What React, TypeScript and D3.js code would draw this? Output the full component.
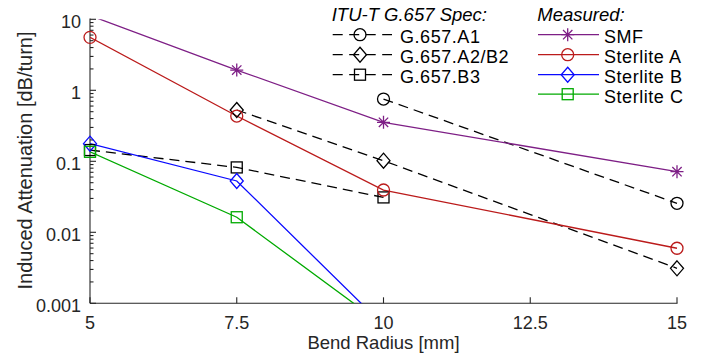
import React from "react";
import * as d3 from "d3";

const radii = [5, 7.5, 10, 12.5, 15];
const xTicks = [5, 7.5, 10, 12.5, 15];
const xTickLabels = ["5", "7.5", "10", "12.5", "15"];
const yTicks = [0.001, 0.01, 0.1, 1, 10];
const yTickLabels = ["0.001", "0.01", "0.1", "1", "10"];

// ITU-T G.657 spec (null = not specified)
const specA1 = [null, null, 0.753, null, 0.0256];
const specA2B2 = [null, 0.528, 0.102, null, 0.00311];
const specB3 = [0.144, 0.082, 0.031, null, null];

// Measured
const smf = [11.3, 1.93, 0.354, null, 0.0714];
const sterliteA = [5.57, 0.434, 0.0394, null, 0.00596];
const sterliteB = [0.177, 0.0528, 0.00049, null, null];
const sterliteC = [0.136, 0.0163, 0.00049, null, null];

type Marker = "circle" | "diamond" | "square" | "star";
interface Series {
  name: string;
  values: (number | null)[];
  color: string;
  marker: Marker;
  dashed: boolean;
}

const specSeries: Series[] = [
  { name: "G.657.A1", values: specA1, color: "#000000", marker: "circle", dashed: true },
  { name: "G.657.A2/B2", values: specA2B2, color: "#000000", marker: "diamond", dashed: true },
  { name: "G.657.B3", values: specB3, color: "#000000", marker: "square", dashed: true },
];
const measuredSeries: Series[] = [
  { name: "SMF", values: smf, color: "#7E1F86", marker: "star", dashed: false },
  { name: "Sterlite A", values: sterliteA, color: "#BB1B1B", marker: "circle", dashed: false },
  { name: "Sterlite B", values: sterliteB, color: "#0A0AFF", marker: "diamond", dashed: false },
  { name: "Sterlite C", values: sterliteC, color: "#00AA00", marker: "square", dashed: false },
];

const W = 712;
const H = 356;
const X0 = 90;
const X1 = 677;
const Y0 = 303.3;
const Y1 = 19.3;
const AXIS = "#262626";
const FONT = "'Liberation Sans', Arial, sans-serif";

function MarkerShape({ type, cx, cy, color }: { type: Marker; cx: number; cy: number; color: string }) {
  const sw = 1.3;
  if (type === "circle") return <circle cx={cx} cy={cy} r={6} fill="none" stroke={color} strokeWidth={sw} />;
  if (type === "square")
    return <rect x={cx - 5.5} y={cy - 5.5} width={11} height={11} fill="none" stroke={color} strokeWidth={sw} />;
  if (type === "diamond")
    return (
      <path
        d={`M${cx},${cy - 7.5}L${cx + 6.5},${cy}L${cx},${cy + 7.5}L${cx - 6.5},${cy}Z`}
        fill="none"
        stroke={color}
        strokeWidth={sw}
      />
    );
  const s = 6.5;
  const d = s * 0.72;
  return (
    <path
      d={`M${cx - s},${cy}L${cx + s},${cy}M${cx},${cy - s}L${cx},${cy + s}M${cx - d},${cy - d}L${cx + d},${cy + d}M${cx - d},${cy + d}L${cx + d},${cy - d}`}
      stroke={color}
      strokeWidth={sw}
      fill="none"
    />
  );
}

export default function App() {
  const x = d3.scaleLinear().domain([5, 15]).range([X0, X1]);
  const y = d3.scaleLog().domain([0.001, 10]).range([Y0, Y1]);

  const minor: number[] = [];
  for (let e = -3; e < 1; e++) for (let k = 2; k <= 9; k++) minor.push(k * Math.pow(10, e));

  const all = [...specSeries, ...measuredSeries];
  const line = d3
    .line<[number, number]>()
    .x((d) => x(d[0]))
    .y((d) => y(d[1]));

  const pts = (s: Series): [number, number][] =>
    s.values
      .map((v, i) => (v == null ? null : ([radii[i], v] as [number, number])))
      .filter((p): p is [number, number] => p !== null);

  const inside = (p: [number, number]) => p[1] >= 0.001 && p[1] <= 10;

  const rowY = [34.7, 54.7, 74.7, 94.2];

  return (
    <svg
      width={W}
      height={H}
      style={{ position: "absolute", left: 0, top: 0, background: "#fff" }}
      fontFamily={FONT}
    >
      <defs>
        <clipPath id="plotclip">
          <rect x={X0} y={Y1} width={X1 - X0 + 1} height={Y0 - Y1} />
        </clipPath>
      </defs>

      {/* axes */}
      <g stroke={AXIS} strokeWidth={1.1} fill="none">
        <line x1={X0} y1={Y0} x2={X1 + 0.5} y2={Y0} />
        <line x1={X0} y1={Y0} x2={X0} y2={Y1 - 0.8} />
        {xTicks.map((t) => (
          <line key={"xt" + t} x1={x(t)} x2={x(t)} y1={Y0} y2={Y0 - 6} />
        ))}
        {yTicks.map((t) => (
          <line key={"yt" + t} x1={X0} x2={X0 + 6} y1={y(t)} y2={y(t)} />
        ))}
        {minor.map((t) => (
          <line key={"ym" + t} x1={X0} x2={X0 + 3.5} y1={y(t)} y2={y(t)} />
        ))}
      </g>

      <g fill={AXIS} fontSize={18}>
        {xTicks.map((t, i) => (
          <text key={"xl" + t} x={x(t)} y={328.5} textAnchor="middle">
            {xTickLabels[i]}
          </text>
        ))}
        {yTicks.map((t, i) => (
          <text key={"yl" + t} x={81} y={y(t) + 8.5} textAnchor="end">
            {yTickLabels[i]}
          </text>
        ))}
      </g>
      <text x={(X0 + X1) / 2} y={348.5} textAnchor="middle" fontSize={18.5} fill={AXIS}>
        Bend Radius [mm]
      </text>
      <text
        transform={`translate(32,${160.5}) rotate(-90)`}
        textAnchor="middle"
        fontSize={20}
        fill={AXIS}
      >
        Induced Attenuation [dB/turn]
      </text>

      {/* data */}
      <g clipPath="url(#plotclip)">
        {all.map((s) => (
          <path
            key={"l" + s.name}
            d={line(pts(s)) || ""}
            fill="none"
            stroke={s.color}
            strokeWidth={1.3}
            strokeDasharray={s.dashed ? "10,6" : undefined}
          />
        ))}
      </g>
      {all.map((s) =>
        pts(s)
          .filter(inside)
          .map((p) => (
            <MarkerShape key={"m" + s.name + p[0]} type={s.marker} cx={x(p[0])} cy={y(p[1])} color={s.color} />
          ))
      )}

      {/* legend */}
      <text x={331.7} y={20.7} fontSize={18.5} fontStyle="italic" fill="#000">
        ITU-T G.657 Spec:
      </text>
      <text x={537.3} y={20.7} fontSize={18.5} fontStyle="italic" fill="#000">
        Measured:
      </text>
      {specSeries.map((s, i) => (
        <g key={"lg" + s.name}>
          <line x1={332.7} x2={392} y1={rowY[i]} y2={rowY[i]} stroke="#000" strokeWidth={1.3} strokeDasharray="10,6.5" />
          <MarkerShape type={s.marker} cx={360} cy={rowY[i]} color="#000" />
          <text x={400} y={rowY[i] + 8.3} fontSize={18} letterSpacing={0.55} fill="#000">
            {s.name}
          </text>
        </g>
      ))}
      {measuredSeries.map((s, i) => (
        <g key={"lm" + s.name}>
          <line x1={538} x2={599} y1={rowY[i]} y2={rowY[i]} stroke={s.color} strokeWidth={1.3} />
          <MarkerShape type={s.marker} cx={567.7} cy={rowY[i]} color={s.color} />
          <text x={604} y={rowY[i] + 8.3} fontSize={18} letterSpacing={0.55} fill="#000">
            {s.name}
          </text>
        </g>
      ))}
    </svg>
  );
}
